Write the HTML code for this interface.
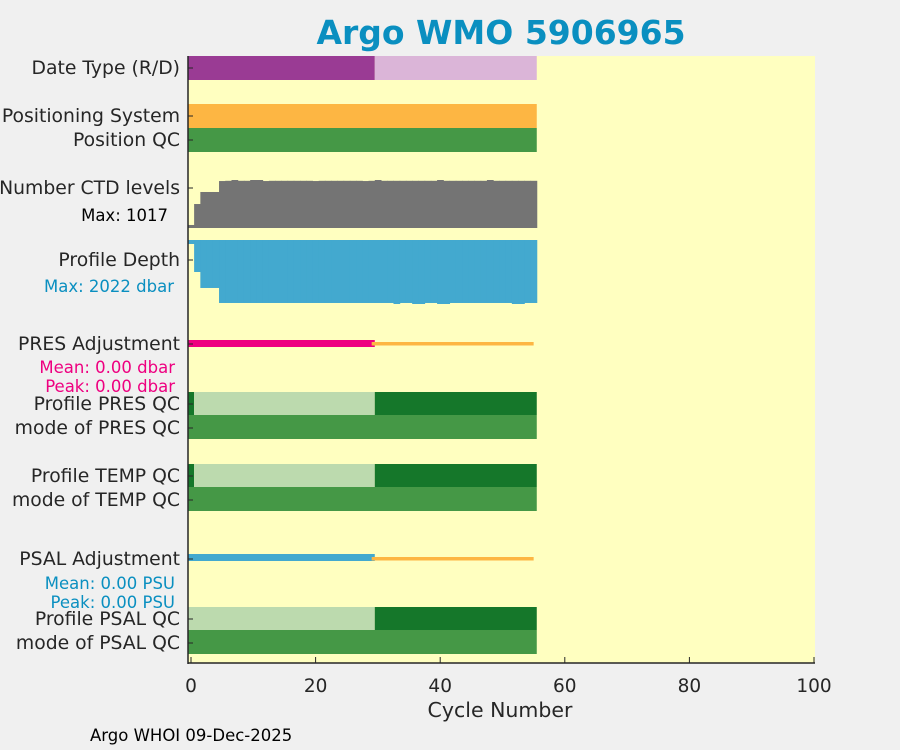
<!DOCTYPE html>
<html><head><meta charset="utf-8"><style>
body{margin:0;background:#f0f0f0;}
svg{display:block;font-family:"DejaVu Sans","Liberation Sans",sans-serif;}
</style></head><body>
<svg id="c" width="900" height="750" xmlns="http://www.w3.org/2000/svg">
<rect x="0" y="0" width="900" height="750" fill="#f0f0f0"/>
<text x="501" y="44" text-anchor="middle" font-size="33" font-weight="bold" fill="#0a8fc0">Argo WMO 5906965</text>
<rect x="188" y="56" width="627" height="607" fill="#ffffc0"/>
<g id="marks"></g>
<g id="axes"></g>
<text x="500" y="717" text-anchor="middle" font-size="20.5" fill="#262626">Cycle Number</text>
<text x="90" y="741" font-size="16.5" fill="#000">Argo WHOI 09-Dec-2025</text>
</svg>
<script>
const cycles = Array.from({length:56},(_,i)=>i);
const ctdLevels = [64,508,763,763,763,995,1000,1017,1000,1000,1017,1017,995,1000,1000,1000,1000,1000,1000,1000,995,1000,1000,1000,1000,1000,1000,1000,995,1000,1017,1000,1000,1000,1000,1000,1000,1000,1000,1000,1017,1000,1000,1000,1000,1000,1000,1000,1017,1000,1000,1000,1000,1000,1000,1000];
const profileDepth = [126,1011,1516,1516,1516,1990,1990,1990,1990,1990,1990,1990,1990,1990,1990,1990,1990,1990,1990,1990,1990,1990,1990,1990,1990,1990,1990,1990,1990,1990,1990,1990,1990,2022,1990,1990,2022,2022,1990,1990,2022,2022,1990,1990,1990,1990,1990,1990,1990,1990,1990,1990,2022,2022,1990,1990];
const dateTypeSplit = 29;
const qcLightStart = 1, qcLightEnd = 29;
const adjEnd = 29, lastCycle = 55;
const xTicks = [0,20,40,60,80,100];
const ctdMax = 1017, depthMax = 2022;

const NS="http://www.w3.org/2000/svg";
const x = v => 191 + (v)*6.23;
const marks=document.getElementById('marks'), axes=document.getElementById('axes');
function mk(tag,attrs,parent){const e=document.createElementNS(NS,tag);for(const k in attrs)e.setAttribute(k,attrs[k]);(parent||marks).appendChild(e);return e;}
function band(c0,c1,y0,y1,fill,name){const e=mk('rect',{x:x(c0-0.5),y:y0,width:x(c1+0.5)-x(c0-0.5),height:y1-y0,fill:fill});

return e;}
band(0,dateTypeSplit,56,80,'#9a3b94','date-type-realtime');
band(dateTypeSplit+1,lastCycle,56,80,'#dbb5d8','date-type-delayed');
band(0,lastCycle,104,128,'#fdb643','positioning-system');
band(0,lastCycle,128,152,'#459846','position-qc');
cycles.forEach((c,i)=>{const h=ctdLevels[i]/ctdMax*48;const r=band(c,c,228-h,228,'#747474','ctd-bar');
r.setAttribute('width',x(c+0.5)-x(c-0.5)+0.5);});
cycles.forEach((c,i)=>{const h=profileDepth[i]/depthMax*64;const r=band(c,c,240,240+h,'#43a9cf','depth-bar');
r.setAttribute('width',x(c+0.5)-x(c-0.5)+0.5);});
band(0,adjEnd,340,347,'#ee0080','pres-adjustment-line');
band(adjEnd+0.5,lastCycle-0.5,342,345.5,'#fdb643','pres-adjustment-delayed');
function qcRows(y,prefix,firstLight){
if(!firstLight) band(0,0,y,y+23,'#15772a',prefix+'-qc-cycle0');
band(firstLight?0:qcLightStart,qcLightEnd,y,y+23,'#bcdaae',prefix+'-qc-light');
band(qcLightEnd+1,lastCycle,y,y+23,'#15772a',prefix+'-qc-dark');
band(0,lastCycle,y+23,y+47,'#459846',prefix+'-mode-qc');}
qcRows(392,'pres',false);qcRows(464,'temp',false);qcRows(607,'psal',true);
band(0,adjEnd,554,561,'#43a9cf','psal-adjustment-line');
band(adjEnd+0.5,lastCycle-0.5,557,560.5,'#fdb643','psal-adjustment-delayed');
let a=mk('line',{x1:188,y1:56,x2:188,y2:664,stroke:'#262626','stroke-width':1.5},axes);

a=mk('line',{x1:188,y1:663,x2:815,y2:663,stroke:'#262626','stroke-width':1.5},axes);

xTicks.forEach(t=>{const l=mk('line',{x1:x(t),y1:663,x2:x(t),y2:657,stroke:'#262626'},axes);

const tx=mk('text',{x:x(t),y:692,'text-anchor':'middle','font-size':18.5,fill:'#262626'},axes);tx.textContent=t;
});
const labels=[["Date Type (R/D)",68,18.8,'#262626'],["Positioning System",116,18.8,'#262626'],["Position QC",140,18.8,'#262626'],["Number CTD levels",188,18.8,'#262626'],["Max: 1017",215,16.5,'#000'],["Profile Depth",260,18.8,'#262626'],["Max: 2022 dbar",286,16.5,'#0a8fc0'],["PRES Adjustment",344,18.8,'#262626'],["Mean: 0.00 dbar",367,16.5,'#ee0080'],["Peak: 0.00 dbar",386,16.5,'#ee0080'],["Profile PRES QC",404,18.8,'#262626'],["mode of PRES QC",428,18.8,'#262626'],["Profile TEMP QC",476,18.8,'#262626'],["mode of TEMP QC",500,18.8,'#262626'],["PSAL Adjustment",559,18.8,'#262626'],["Mean: 0.00 PSU",583,16.5,'#0a8fc0'],["Peak: 0.00 PSU",602,16.5,'#0a8fc0'],["Profile PSAL QC",619,18.8,'#262626'],["mode of PSAL QC",643,18.8,'#262626']];
const ytick=[68,116,140,188,260,344,404,428,476,500,559,619,643];
ytick.forEach(y=>{const l=mk('line',{x1:188,y1:y,x2:193,y2:y,stroke:'#262626'},axes);
});
labels.forEach(([t,y,fs,col])=>{const rx = fs<18 ? (t.startsWith('Max: 1')?168:(t.startsWith('Max')?174:175)) : 180;
const e=mk('text',{x:rx,y:y+6,'text-anchor':'end','font-size':fs,fill:col},axes);e.textContent=t;
});
</script>
</body></html>
